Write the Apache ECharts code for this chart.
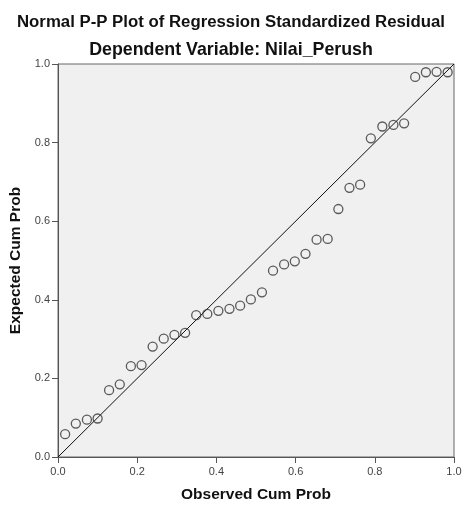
<!DOCTYPE html>
<html>
<head>
<meta charset="utf-8">
<script src="https://cdn.jsdelivr.net/npm/echarts@6/dist/echarts.min.js"></script>
<style>
  html, body { margin: 0; padding: 0; background: #fff; }
  #pp { width: 462px; height: 506px; }
</style>
</head>
<body>
<div id="pp"></div>
<script>
// observed cum prob (x) and expected cum prob (y)
var observed = [0.018, 0.045, 0.073, 0.100, 0.129, 0.156, 0.184, 0.211, 0.239, 0.267,
    0.294, 0.321, 0.349, 0.377, 0.405, 0.433, 0.460, 0.487, 0.515, 0.543,
    0.571, 0.598, 0.625, 0.653, 0.681, 0.708, 0.736, 0.763, 0.790, 0.819,
    0.847, 0.874, 0.902, 0.929, 0.956, 0.984];
var expected = [0.058, 0.085, 0.095, 0.098, 0.170, 0.185, 0.231, 0.234, 0.281, 0.301,
    0.311, 0.316, 0.361, 0.364, 0.372, 0.377, 0.385, 0.401, 0.419, 0.474,
    0.490, 0.498, 0.517, 0.553, 0.555, 0.631, 0.685, 0.693, 0.811, 0.841,
    0.845, 0.849, 0.967, 0.979, 0.980, 0.979];
var refLine = [[0, 0], [1, 1]];
var tickStep = 0.2;

var points = observed.map(function(v, i) {
    return [v, expected[i]];
});

var chart = echarts.init(document.getElementById('pp'));
var fontFam = '"Liberation Sans", Arial, sans-serif';

function axisCfg(name, gap, labelMargin) {
    return {
        type: 'value',
        min: 0,
        max: 1,
        interval: tickStep,
        name: name,
        nameLocation: 'middle',
        nameGap: gap,
        nameTextStyle: { fontFamily: fontFam, fontSize: 15.5, fontWeight: 'bold', color: '#111' },
        axisLine: { show: true, lineStyle: { color: '#555', width: 1 } },
        axisTick: { show: true, inside: false, length: 6, lineStyle: { color: '#555' } },
        axisLabel: {
            fontFamily: fontFam, fontSize: 11, color: '#444', margin: labelMargin,
            formatter: function(v) { return v.toFixed(1); }
        },
        splitLine: { show: false }
    };
}

var option = {
    backgroundColor: '#fff',
    animation: false,
    title: [
        {
            text: 'Normal P-P Plot of Regression Standardized Residual',
            left: 'center',
            top: 9,
            textStyle: { fontFamily: fontFam, fontSize: 16.8, fontWeight: 'bold', color: '#111' }
        },
        {
            text: 'Dependent Variable: Nilai_Perush',
            left: 'center',
            top: 36,
            textStyle: { fontFamily: fontFam, fontSize: 17.8, fontWeight: 'bold', color: '#111' }
        }
    ],
    grid: {
        left: 58,
        right: 8,
        top: 64,
        bottom: 49,
        outerBoundsMode: 'none',
        show: true,
        backgroundColor: '#f0f0f0',
        borderColor: '#666',
        borderWidth: 1
    },
    xAxis: axisCfg('Observed Cum Prob', 30, 9),
    yAxis: axisCfg('Expected Cum Prob', 34, 8),
    series: [
        {
            type: 'line',
            data: refLine,
            symbol: 'none',
            lineStyle: { color: '#111', width: 1 },
            silent: true,
            z: 2
        },
        {
            type: 'scatter',
            data: points,
            symbol: 'circle',
            symbolSize: 9,
            itemStyle: { color: 'rgba(0,0,0,0)', borderColor: '#333', borderWidth: 1.3 },
            z: 3
        }
    ]
};
chart.setOption(option);
</script>
</body>
</html>
